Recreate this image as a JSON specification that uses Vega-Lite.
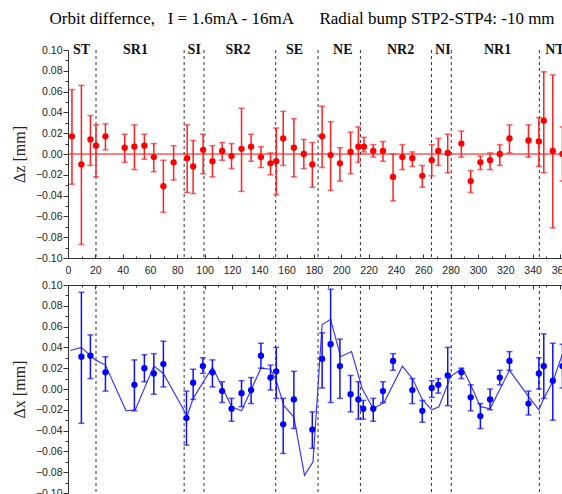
{
  "$schema": "https://vega.github.io/schema/vega-lite/v6.json",
  "padding": {"left": 11, "top": 10, "right": 0, "bottom": 0},
  "background": "white",
  "title": {
    "text": "Orbit differnce,\u00a0\u00a0\u00a0I = 1.6mA - 16mA\u00a0\u00a0\u00a0\u00a0\u00a0\u00a0Radial bump STP2-STP4: -10 mm",
    "font": "Liberation Serif", "fontSize": 17, "fontWeight": "normal", "color": "#000", "anchor": "middle", "dx": 12, "offset": 14
  },
  "config": {
    "view": {"stroke": null},
    "axis": {"labelFont": "Liberation Sans", "labelFontSize": 10.5, "labelColor": "#222", "domainColor": "#333", "tickColor": "#333", "grid": false, "labelOverlap": false, "titleFont": "Liberation Serif", "titleFontSize": 16, "titleFontWeight": "normal", "titleColor": "#222"}
  },
  "datasets": {
    "zdat": [
      {"x": 2.9, "v": 0.017, "lo": -0.029, "hi": 0.062},
      {"x": 9.8, "v": -0.010, "lo": -0.087, "hi": 0.066},
      {"x": 16.4, "v": 0.014, "lo": -0.011, "hi": 0.037},
      {"x": 20.5, "v": 0.008, "lo": -0.022, "hi": 0.028},
      {"x": 27.4, "v": 0.017, "lo": 0.004, "hi": 0.029},
      {"x": 41.5, "v": 0.006, "lo": -0.008, "hi": 0.019},
      {"x": 48.6, "v": 0.007, "lo": -0.015, "hi": 0.028},
      {"x": 55.9, "v": 0.008, "lo": -0.005, "hi": 0.019},
      {"x": 62.8, "v": -0.003, "lo": -0.017, "hi": 0.010},
      {"x": 69.8, "v": -0.031, "lo": -0.056, "hi": -0.006},
      {"x": 77.3, "v": -0.008, "lo": -0.025, "hi": 0.008},
      {"x": 87.2, "v": -0.004, "lo": -0.037, "hi": 0.028},
      {"x": 91.6, "v": -0.012, "lo": -0.038, "hi": 0.013},
      {"x": 98.9, "v": 0.004, "lo": -0.019, "hi": 0.019},
      {"x": 105.7, "v": -0.007, "lo": -0.022, "hi": 0.008},
      {"x": 112.8, "v": 0.003, "lo": -0.006, "hi": 0.011},
      {"x": 119.7, "v": -0.002, "lo": -0.014, "hi": 0.010},
      {"x": 127.0, "v": 0.005, "lo": -0.036, "hi": 0.044},
      {"x": 134.0, "v": 0.007, "lo": -0.007, "hi": 0.019},
      {"x": 141.2, "v": -0.003, "lo": -0.013, "hi": 0.007},
      {"x": 148.2, "v": -0.009, "lo": -0.020, "hi": 0.001},
      {"x": 152.4, "v": -0.007, "lo": -0.039, "hi": 0.025},
      {"x": 157.5, "v": 0.015, "lo": -0.011, "hi": 0.041},
      {"x": 165.3, "v": 0.006, "lo": -0.022, "hi": 0.034},
      {"x": 172.6, "v": 0.000, "lo": -0.014, "hi": 0.014},
      {"x": 178.8, "v": -0.010, "lo": -0.032, "hi": 0.011},
      {"x": 186.0, "v": 0.017, "lo": -0.013, "hi": 0.046},
      {"x": 192.2, "v": -0.001, "lo": -0.035, "hi": 0.031},
      {"x": 199.0, "v": -0.009, "lo": -0.026, "hi": 0.006},
      {"x": 206.8, "v": 0.002, "lo": -0.019, "hi": 0.021},
      {"x": 212.5, "v": 0.007, "lo": -0.008, "hi": 0.026},
      {"x": 216.6, "v": 0.007, "lo": 0.002, "hi": 0.016},
      {"x": 223.4, "v": 0.003, "lo": -0.003, "hi": 0.009},
      {"x": 230.5, "v": 0.003, "lo": -0.007, "hi": 0.012},
      {"x": 237.9, "v": -0.022, "lo": -0.045, "hi": 0.000},
      {"x": 244.7, "v": -0.003, "lo": -0.015, "hi": 0.009},
      {"x": 252.0, "v": -0.004, "lo": -0.012, "hi": 0.002},
      {"x": 259.3, "v": -0.021, "lo": -0.032, "hi": -0.011},
      {"x": 266.2, "v": -0.006, "lo": -0.021, "hi": 0.009},
      {"x": 271.0, "v": 0.003, "lo": -0.011, "hi": 0.015},
      {"x": 277.9, "v": 0.001, "lo": -0.018, "hi": 0.019},
      {"x": 287.9, "v": 0.010, "lo": -0.003, "hi": 0.022},
      {"x": 294.7, "v": -0.026, "lo": -0.037, "hi": -0.016},
      {"x": 301.8, "v": -0.008, "lo": -0.015, "hi": -0.002},
      {"x": 308.9, "v": -0.006, "lo": -0.015, "hi": 0.001},
      {"x": 316.0, "v": 0.000, "lo": -0.011, "hi": 0.009},
      {"x": 323.1, "v": 0.015, "lo": 0.001, "hi": 0.028},
      {"x": 337.0, "v": 0.013, "lo": -0.003, "hi": 0.028},
      {"x": 344.6, "v": 0.012, "lo": -0.012, "hi": 0.035},
      {"x": 348.2, "v": 0.032, "lo": -0.018, "hi": 0.079},
      {"x": 354.8, "v": 0.003, "lo": -0.071, "hi": 0.076},
      {"x": 361.9, "v": 0.000, "lo": -0.026, "hi": 0.026}
    ],
    "xdat": [
      {"x": 9.8, "v": 0.031, "lo": -0.033, "hi": 0.093},
      {"x": 16.4, "v": 0.032, "lo": 0.010, "hi": 0.052},
      {"x": 27.4, "v": 0.016, "lo": -0.002, "hi": 0.031},
      {"x": 48.6, "v": 0.004, "lo": -0.021, "hi": 0.028},
      {"x": 55.9, "v": 0.020, "lo": 0.007, "hi": 0.033},
      {"x": 62.8, "v": 0.015, "lo": -0.005, "hi": 0.034},
      {"x": 69.8, "v": 0.024, "lo": 0.002, "hi": 0.046},
      {"x": 86.7, "v": -0.028, "lo": -0.054, "hi": -0.002},
      {"x": 91.6, "v": 0.006, "lo": -0.010, "hi": 0.019},
      {"x": 98.7, "v": 0.022, "lo": 0.015, "hi": 0.030},
      {"x": 105.7, "v": 0.016, "lo": 0.002, "hi": 0.028},
      {"x": 112.8, "v": -0.002, "lo": -0.013, "hi": 0.007},
      {"x": 119.7, "v": -0.019, "lo": -0.031, "hi": -0.009},
      {"x": 127.0, "v": -0.004, "lo": -0.017, "hi": 0.008},
      {"x": 134.0, "v": -0.001, "lo": -0.014, "hi": 0.011},
      {"x": 141.2, "v": 0.032, "lo": 0.020, "hi": 0.044},
      {"x": 148.2, "v": 0.011, "lo": -0.001, "hi": 0.023},
      {"x": 152.4, "v": 0.017, "lo": -0.009, "hi": 0.040},
      {"x": 157.5, "v": -0.034, "lo": -0.062, "hi": -0.009},
      {"x": 165.3, "v": -0.010, "lo": -0.038, "hi": 0.017},
      {"x": 178.8, "v": -0.039, "lo": -0.057, "hi": -0.022},
      {"x": 186.0, "v": 0.029, "lo": 0.001, "hi": 0.054},
      {"x": 192.2, "v": 0.043, "lo": -0.013, "hi": 0.096},
      {"x": 199.0, "v": 0.022, "lo": -0.009, "hi": 0.048},
      {"x": 206.8, "v": -0.005, "lo": -0.022, "hi": 0.013},
      {"x": 212.5, "v": -0.010, "lo": -0.029, "hi": 0.007},
      {"x": 216.1, "v": -0.019, "lo": -0.029, "hi": -0.011},
      {"x": 223.4, "v": -0.019, "lo": -0.031, "hi": -0.009},
      {"x": 230.5, "v": -0.002, "lo": -0.013, "hi": 0.007},
      {"x": 237.9, "v": 0.027, "lo": 0.018, "hi": 0.034},
      {"x": 252.0, "v": -0.001, "lo": -0.014, "hi": 0.010},
      {"x": 259.3, "v": -0.021, "lo": -0.032, "hi": -0.011},
      {"x": 266.2, "v": 0.001, "lo": -0.008, "hi": 0.008},
      {"x": 271.0, "v": 0.004, "lo": -0.004, "hi": 0.010},
      {"x": 277.9, "v": 0.013, "lo": -0.016, "hi": 0.040},
      {"x": 287.9, "v": 0.016, "lo": 0.010, "hi": 0.020},
      {"x": 294.7, "v": -0.008, "lo": -0.021, "hi": 0.004},
      {"x": 301.8, "v": -0.026, "lo": -0.038, "hi": -0.014},
      {"x": 308.9, "v": -0.010, "lo": -0.020, "hi": 0.000},
      {"x": 316.0, "v": 0.011, "lo": 0.004, "hi": 0.018},
      {"x": 323.1, "v": 0.027, "lo": 0.018, "hi": 0.036},
      {"x": 337.0, "v": -0.014, "lo": -0.025, "hi": -0.002},
      {"x": 344.6, "v": 0.015, "lo": 0.000, "hi": 0.030},
      {"x": 348.2, "v": 0.022, "lo": -0.009, "hi": 0.053},
      {"x": 354.8, "v": 0.008, "lo": -0.030, "hi": 0.044},
      {"x": 361.9, "v": 0.022, "lo": 0.001, "hi": 0.043}
    ],
    "model": [
      {"x": 1.7, "v": 0.037}, {"x": 9.8, "v": 0.040}, {"x": 20, "v": 0.028}, {"x": 27.4, "v": 0.023},
      {"x": 42.5, "v": -0.021}, {"x": 49.3, "v": -0.020}, {"x": 62.8, "v": 0.022}, {"x": 69.8, "v": 0.015},
      {"x": 87.2, "v": -0.026}, {"x": 91.6, "v": -0.009}, {"x": 105.7, "v": 0.021}, {"x": 112.8, "v": 0.002},
      {"x": 119.7, "v": -0.017}, {"x": 127, "v": -0.021}, {"x": 141.2, "v": 0.020}, {"x": 148.2, "v": 0.019},
      {"x": 152.4, "v": 0.008}, {"x": 158, "v": -0.016}, {"x": 165.3, "v": -0.027}, {"x": 173.1, "v": -0.083},
      {"x": 179.3, "v": -0.070}, {"x": 186, "v": 0.062}, {"x": 192.2, "v": 0.067}, {"x": 199.5, "v": 0.031},
      {"x": 207.5, "v": 0.036}, {"x": 215.4, "v": 0.000}, {"x": 223.4, "v": -0.019}, {"x": 231.3, "v": -0.013},
      {"x": 244.7, "v": 0.022}, {"x": 252, "v": 0.010}, {"x": 259.3, "v": -0.010}, {"x": 266.2, "v": -0.020},
      {"x": 271.5, "v": -0.017}, {"x": 280, "v": 0.012}, {"x": 288.6, "v": 0.020}, {"x": 294.7, "v": 0.004},
      {"x": 301.8, "v": -0.017}, {"x": 308.9, "v": -0.019}, {"x": 323.1, "v": 0.018}, {"x": 337, "v": -0.007},
      {"x": 344.6, "v": -0.020}, {"x": 348.2, "v": -0.009}, {"x": 354.8, "v": 0.007}, {"x": 363, "v": 0.038}
    ],
    "sections": [
      {"x": 9.5, "label": "ST"}, {"x": 49, "label": "SR1"}, {"x": 92, "label": "SI"}, {"x": 124, "label": "SR2"},
      {"x": 165.5, "label": "SE"}, {"x": 200.7, "label": "NE"}, {"x": 243, "label": "NR2"}, {"x": 274, "label": "NI"},
      {"x": 314, "label": "NR1"}, {"x": 356, "label": "NT"}
    ],
    "dividers": [
      {"x": 20.5}, {"x": 85}, {"x": 99.5}, {"x": 152}, {"x": 183}, {"x": 214}, {"x": 266}, {"x": 280.5}, {"x": 345}
    ],
    "zero": [{"a": 0, "b": 363, "v": 0}]
  },
  "bounds": "flush",
  "spacing": 27,
  "vconcat": [
    {
      "width": 496, "height": 208,
      "resolve": {"axis": {"x": "independent"}},
      "layer": [
        {
          "encoding": {
            "x": {"field": "x", "type": "quantitative", "scale": {"domain": [0, 363], "nice": false, "zero": false},
              "axis": {"orient": "bottom", "title": null, "labelOverlap": false, "values": [0,10,20,30,40,50,60,70,80,90,100,110,120,130,140,150,160,170,180,190,200,210,220,230,240,250,260,270,280,290,300,310,320,330,340,350,360],
                "labelExpr": "datum.value % 20 == 0 ? datum.label : ''", "tickSize": {"condition": {"test": "datum.value % 20 == 0", "value": -4}, "value": -2}, "labelPadding": 11, "labelFlush": false}},
            "y": {"field": "v", "type": "quantitative", "scale": {"domain": [-0.1, 0.1], "nice": false},
              "axis": {"title": "Δz [mm]", "labelOverlap": false, "labelBound": false, "values": [-0.1,-0.09,-0.08,-0.07,-0.06,-0.05,-0.04,-0.03,-0.02,-0.01,0,0.01,0.02,0.03,0.04,0.05,0.06,0.07,0.08,0.09,0.1],
                "labelExpr": "abs(round(datum.value*100)) % 2 == 0 ? format(datum.value, '.2f') : ''", "tickSize": {"condition": {"test": "abs(round(datum.value*100)) % 2 == 0", "value": 5}, "value": 3}, "labelPadding": 1, "titlePadding": 8}}
          },
          "layer": [
            {"data": {"name": "dividers"}, "mark": {"type": "rule", "strokeDash": [3, 3], "color": "#333", "strokeWidth": 1}, "encoding": {"x": {"field": "x", "type": "quantitative"}, "y": null}},
            {"data": {"name": "zero"}, "mark": {"type": "rule", "color": "#ff0000", "strokeWidth": 1}, "encoding": {"x": {"field": "a", "type": "quantitative"}, "x2": {"field": "b"}}},
            {"data": {"name": "zdat"}, "mark": {"type": "rule", "color": "#ff2020", "strokeWidth": 1.5}, "encoding": {"y": {"field": "lo", "type": "quantitative"}, "y2": {"field": "hi"}}},
            {"data": {"name": "zdat"}, "mark": {"type": "tick", "orient": "horizontal", "size": 6, "thickness": 1.5, "color": "#ff2020"}, "encoding": {"y": {"field": "lo", "type": "quantitative"}}},
            {"data": {"name": "zdat"}, "mark": {"type": "tick", "orient": "horizontal", "size": 6, "thickness": 1.5, "color": "#ff2020"}, "encoding": {"y": {"field": "hi", "type": "quantitative"}}},
            {"data": {"name": "zdat"}, "mark": {"type": "point", "filled": true, "size": 40, "color": "#ff0000", "opacity": 1}}
          ]
        },
        {
          "data": {"name": "sections"},
          "mark": {"type": "text", "opacity": 0},
          "encoding": {
            "x": {"field": "x", "type": "quantitative",
              "axis": {"orient": "top", "title": null, "values": [9.5, 49, 92, 124, 165.5, 200.7, 243, 274, 314, 356],
                "labelExpr": "datum.value < 20 ? 'ST' : datum.value < 60 ? 'SR1' : datum.value < 100 ? 'SI' : datum.value < 140 ? 'SR2' : datum.value < 180 ? 'SE' : datum.value < 220 ? 'NE' : datum.value < 260 ? 'NR2' : datum.value < 290 ? 'NI' : datum.value < 340 ? 'NR1' : 'NT'",
                "ticks": false, "tickSize": 0, "domain": false, "labelFont": "Liberation Serif", "labelFontWeight": "bold", "labelFontSize": 14, "labelColor": "#111",
                "labelBaseline": "middle", "labelPadding": 1, "labelOverlap": false, "labelFlush": false, "labelBound": false}},
            "text": {"field": "label"}
          }
        }
      ]
    },
    {
      "width": 496, "height": 208,
      "encoding": {
        "x": {"field": "x", "type": "quantitative", "scale": {"domain": [0, 363], "nice": false, "zero": false},
          "axis": {"orient": "top", "title": null, "values": [0,10,20,30,40,50,60,70,80,90,100,110,120,130,140,150,160,170,180,190,200,210,220,230,240,250,260,270,280,290,300,310,320,330,340,350,360],
            "labels": false, "tickSize": {"condition": {"test": "datum.value % 20 == 0", "value": -4}, "value": -2}}},
        "y": {"field": "v", "type": "quantitative", "scale": {"domain": [-0.1, 0.1], "nice": false},
          "axis": {"title": "Δx [mm]", "labelOverlap": false, "labelBound": false, "values": [-0.1,-0.09,-0.08,-0.07,-0.06,-0.05,-0.04,-0.03,-0.02,-0.01,0,0.01,0.02,0.03,0.04,0.05,0.06,0.07,0.08,0.09,0.1],
            "labelExpr": "abs(round(datum.value*100)) % 2 == 0 ? format(datum.value, '.2f') : ''", "tickSize": {"condition": {"test": "abs(round(datum.value*100)) % 2 == 0", "value": 5}, "value": 3}, "labelPadding": 1, "titlePadding": 8}}
      },
      "layer": [
        {"data": {"name": "dividers"}, "mark": {"type": "rule", "strokeDash": [3, 3], "color": "#333", "strokeWidth": 1}, "encoding": {"x": {"field": "x", "type": "quantitative"}, "y": null}},
        {"data": {"name": "model"}, "mark": {"type": "line", "color": "#3a3aff", "strokeWidth": 1.2}, "encoding": {}},
        {"data": {"name": "xdat"}, "mark": {"type": "rule", "color": "#1010ff", "strokeWidth": 1.5}, "encoding": {"y": {"field": "lo", "type": "quantitative"}, "y2": {"field": "hi"}}},
        {"data": {"name": "xdat"}, "mark": {"type": "tick", "orient": "horizontal", "size": 6, "thickness": 1.5, "color": "#1010ff"}, "encoding": {"y": {"field": "lo", "type": "quantitative"}}},
        {"data": {"name": "xdat"}, "mark": {"type": "tick", "orient": "horizontal", "size": 6, "thickness": 1.5, "color": "#1010ff"}, "encoding": {"y": {"field": "hi", "type": "quantitative"}}},
        {"data": {"name": "xdat"}, "mark": {"type": "point", "filled": true, "size": 40, "color": "#0000ff", "opacity": 1}}
      ]
    }
  ]
}
